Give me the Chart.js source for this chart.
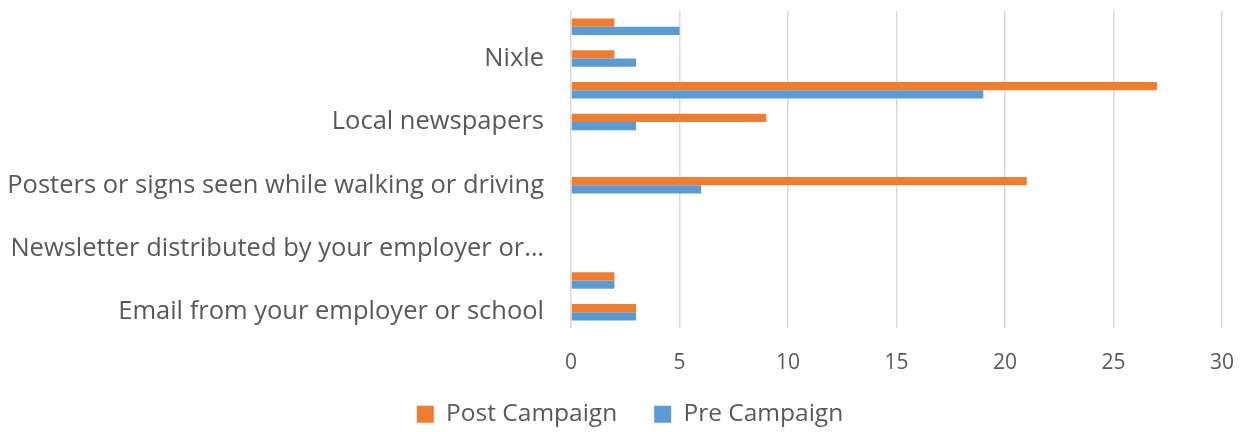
<!DOCTYPE html>
<html>
<head>
<meta charset="utf-8">
<script src="https://cdn.jsdelivr.net/npm/chart.js@4.4.1/dist/chart.umd.min.js"></script>
<style>
  html, body { margin: 0; padding: 0; background: #ffffff; }
  #wrap { width: 1257px; height: 432px; position: relative; }
</style>
</head>
<body>
<div id="wrap"><canvas id="c" width="1257" height="432"></canvas></div>
<script>
const categories = [
  '',
  'Nixle',
  '',
  'Local newspapers',
  '',
  'Posters or signs seen while walking or driving',
  '',
  'Newsletter distributed by your employer or…',
  '',
  'Email from your employer or school'
];
const postCampaign = [2, 2, 27, 9, 0, 21, 0, 0, 2, 3];
const preCampaign  = [5, 3, 19, 3, 0, 6, 0, 0, 2, 3];
const xTicks = [0, 5, 10, 15, 20, 25, 30];

const FONT = "'Open Sans', sans-serif";
const TEXT = '#595959';

// place the legend row: centred under the figure, at the reference height
const legendPlace = {
  id: 'legendPlace',
  afterLayout(chart) {
    const lg = chart.legend;
    if (lg) {
      lg.left += 19;
      lg.right += 19;
      lg.top = 365;
      lg.bottom = chart.height;
      lg.height = lg.bottom - lg.top;
    }
  }
};

new Chart(document.getElementById('c'), {
  type: 'bar',
  data: {
    labels: categories,
    datasets: [
      { label: 'Post Campaign', data: postCampaign, backgroundColor: '#ED7D31', borderWidth: 0 },
      { label: 'Pre Campaign',  data: preCampaign,  backgroundColor: '#5B9BD5', borderWidth: 0 }
    ]
  },
  plugins: [legendPlace],
  options: {
    indexAxis: 'y',
    responsive: false,
    animation: false,
    devicePixelRatio: 1,
    datasets: { bar: { categoryPercentage: 0.52, barPercentage: 1.0 } },
    layout: { padding: { left: 0, right: 35, top: 11, bottom: 0 } },
    plugins: {
      legend: {
        position: 'bottom',
        maxHeight: 54,
        labels: {
          font: { family: FONT, size: 24.5 },
          color: TEXT,
          boxWidth: 17,
          boxHeight: 17,
          padding: 37
        }
      },
      tooltip: { enabled: false }
    },
    scales: {
      x: {
        min: xTicks[0],
        max: xTicks[xTicks.length - 1],
        afterBuildTicks: (axis) => { axis.ticks = xTicks.map(v => ({ value: v })); },
        afterFit: (axis) => { axis.height = 50; axis.paddingLeft = 0; axis.paddingRight = 0; },
        grid: { color: '#d9d9d9', lineWidth: 1.5, drawTicks: true, tickLength: 22, tickColor: 'rgba(0,0,0,0)' },
        border: { display: false },
        ticks: { font: { family: FONT, size: 21 }, color: TEXT, padding: 0 }
      },
      y: {
        afterFit: (axis) => { axis.width = 571; axis.paddingTop = 0; axis.paddingBottom = 0; },
        grid: { display: true, drawOnChartArea: false, drawTicks: true, tickLength: 27, tickColor: 'rgba(0,0,0,0)' },
        border: { display: false },
        ticks: { autoSkip: false, font: { family: FONT, size: 25.5 }, color: TEXT, padding: 0 }
      }
    }
  }
});
</script>
</body>
</html>
